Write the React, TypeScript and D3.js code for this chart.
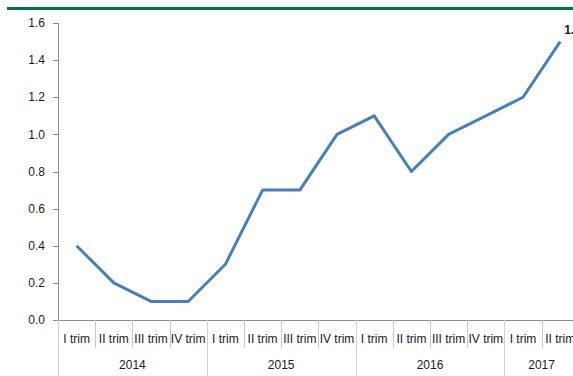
import { useRef, useEffect } from "react";
import * as d3 from "d3";

const QUARTERS = [
  "I trim", "II trim", "III trim", "IV trim",
  "I trim", "II trim", "III trim", "IV trim",
  "I trim", "II trim", "III trim", "IV trim",
  "I trim", "II trim",
];
const YEARS = ["2014", "2015", "2016", "2017"];
const YEAR_SIZES = [4, 4, 4, 2];
const VALUES = [0.4, 0.2, 0.1, 0.1, 0.3, 0.7, 0.7, 1.0, 1.1, 0.8, 1.0, 1.1, 1.2, 1.5];
const Y_TICKS = [0, 0.2, 0.4, 0.6, 0.8, 1.0, 1.2, 1.4, 1.6];

const WIDTH = 573;
const HEIGHT = 376;
const FONT = "Arial, 'Liberation Sans', sans-serif";
const LEFT = 58;
const TOP = 23;
const BOTTOM = 320;
const BAND = 37.2;

export default function App() {
  const svgRef = useRef<SVGSVGElement>(null);

  useEffect(() => {
    const svg = svgRef.current;
    if (!svg) return;
    const root = d3.select(svg);
    root.selectAll("*").remove();

    const x = d3
      .scaleBand<number>()
      .domain(d3.range(QUARTERS.length))
      .range([LEFT, LEFT + BAND * QUARTERS.length]);
    const y = d3.scaleLinear().domain([0, 1.6]).range([BOTTOM, TOP]);

    // green header rule
    root.append("rect")
      .attr("x", 7).attr("y", 7)
      .attr("width", WIDTH - 7).attr("height", 3)
      .attr("fill", "#0b6b4d");

    // y axis
    root.append("line")
      .attr("x1", LEFT + 0.5).attr("x2", LEFT + 0.5)
      .attr("y1", TOP).attr("y2", BOTTOM)
      .attr("stroke", "#8c8c8c");
    for (const t of Y_TICKS) {
      root.append("line")
        .attr("x1", LEFT - 5).attr("x2", LEFT)
        .attr("y1", Math.round(y(t)) + 0.5).attr("y2", Math.round(y(t)) + 0.5)
        .attr("stroke", "#8c8c8c");
      root.append("text")
        .attr("x", LEFT - 13)
        .attr("y", y(t))
        .attr("dy", "0.35em")
        .attr("text-anchor", "end")
        .attr("font-family", FONT)
        .attr("font-size", 12)
        .attr("fill", "#1a1a1a")
        .text(t.toFixed(1));
    }

    // x axis line
    root.append("line")
      .attr("x1", LEFT).attr("x2", WIDTH)
      .attr("y1", BOTTOM + 0.5).attr("y2", BOTTOM + 0.5)
      .attr("stroke", "#8c8c8c");

    // quarter dividers and labels
    QUARTERS.forEach((q, i) => {
      const x0 = x(i)!;
      root.append("line")
        .attr("x1", Math.round(x0) + 0.5).attr("x2", Math.round(x0) + 0.5)
        .attr("y1", BOTTOM).attr("y2", 348)
        .attr("stroke", "#c8c8c8");
      root.append("text")
        .attr("x", x0 + x.bandwidth() / 2)
        .attr("y", 339)
        .attr("dy", "0.35em")
        .attr("text-anchor", "middle")
        .attr("font-family", FONT)
        .attr("font-size", 12)
        .attr("fill", "#1a1a1a")
        .text(q);
    });

    // year dividers and labels
    let start = 0;
    YEARS.forEach((yr, i) => {
      const x0 = x(start)!;
      const w = YEAR_SIZES[i] * BAND;
      root.append("line")
        .attr("x1", Math.round(x0) + 0.5).attr("x2", Math.round(x0) + 0.5)
        .attr("y1", BOTTOM).attr("y2", HEIGHT)
        .attr("stroke", "#d0d0d0");
      root.append("text")
        .attr("x", x0 + w / 2)
        .attr("y", 365)
        .attr("dy", "0.35em")
        .attr("text-anchor", "middle")
        .attr("font-family", FONT)
        .attr("font-size", 12)
        .attr("fill", "#1a1a1a")
        .text(yr);
      start += YEAR_SIZES[i];
    });

    // series
    const line = d3
      .line<number>()
      .x((_, i) => x(i)! + x.bandwidth() / 2)
      .y((d) => y(d));
    root.append("path")
      .datum(VALUES)
      .attr("d", line)
      .attr("fill", "none")
      .attr("stroke", "#4a7ebb")
      .attr("stroke-width", 3)
      .attr("stroke-linejoin", "round");

    // last value label
    const li = VALUES.length - 1;
    root.append("text")
      .attr("x", x(li)! + x.bandwidth() / 2 + 4)
      .attr("y", y(VALUES[li]) - 8)
      .attr("font-family", FONT)
      .attr("font-size", 12)
      .attr("font-weight", "bold")
      .attr("fill", "#1a1a1a")
      .text(VALUES[li].toFixed(1));
  }, []);

  return (
    <div style={{ position: "fixed", left: 0, top: 0, background: "#fff" }}>
      <svg ref={svgRef} width={WIDTH} height={HEIGHT} style={{ display: "block" }} />
    </div>
  );
}
